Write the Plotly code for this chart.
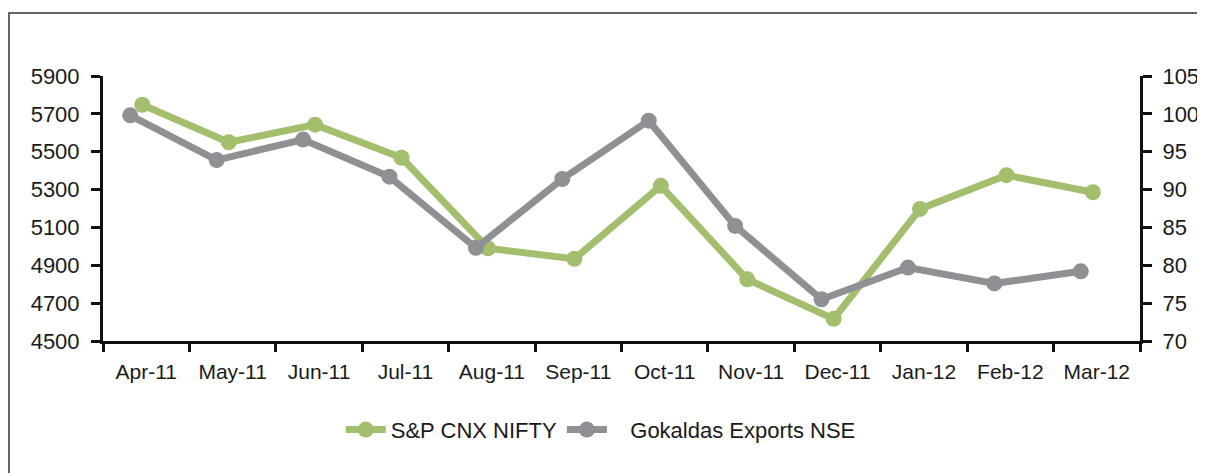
import plotly.graph_objects as go

categories = ["Apr-11", "May-11", "Jun-11", "Jul-11", "Aug-11", "Sep-11",
              "Oct-11", "Nov-11", "Dec-11", "Jan-12", "Feb-12", "Mar-12"]
nifty = [5748, 5550, 5643, 5468, 4990, 4934, 5320, 4826, 4617, 5198, 5376, 5286]
gokaldas = [99.8, 93.9, 96.6, 91.7, 82.3, 91.4, 99.1, 85.2, 75.5, 79.7, 77.6, 79.2]
left_ticks = [4500, 4700, 4900, 5100, 5300, 5500, 5700, 5900]
right_ticks = [70, 75, 80, 85, 90, 95, 100, 105]

GREEN = "#a3be6c"
GREY = "#8e9094"
FONT = "Liberation Sans, Arial, sans-serif"

# page body has an 8px margin; the figure starts at (8, 8) in the window
OFF = 8
W, H = 1205 - OFF, 473 - OFF
ML, MR, MT, MB = 103 - OFF, 65, 76 - OFF, 132
PW, PH = W - ML - MR, H - MT - MB

idx = list(range(len(categories)))
grey_x = [i for i in idx]
green_x = [i + 0.14 for i in idx]
centers = [i + 0.185 for i in idx]
bounds = [i - 0.315 for i in range(len(categories) + 1)]

fig = go.Figure()
fig.add_trace(go.Scatter(
    x=green_x, y=nifty, name="S&P CNX NIFTY", mode="lines+markers",
    line=dict(color=GREEN, width=7), marker=dict(color=GREEN, size=16),
    yaxis="y"))
fig.add_trace(go.Scatter(
    x=grey_x, y=gokaldas, name="\u00a0\u00a0\u00a0Gokaldas Exports NSE",
    mode="lines+markers",
    line=dict(color=GREY, width=7), marker=dict(color=GREY, size=16),
    yaxis="y2"))

fig.update_layout(
    width=W, height=H,
    margin=dict(l=ML, r=MR, t=MT, b=MB, pad=0, autoexpand=False),
    paper_bgcolor="white", plot_bgcolor="white",
    font=dict(family=FONT, size=22, color="#1a1a1a"),
    showlegend=True,
    legend=dict(orientation="h", x=0.48, xanchor="center", y=-0.335,
                yanchor="middle", font=dict(size=22, family=FONT),
                itemwidth=40, tracegroupgap=0),
    xaxis=dict(
        range=[bounds[0], bounds[-1]], automargin=False,
        tickmode="array", tickvals=centers, ticktext=categories,
        ticks="", showgrid=False, zeroline=False,
        showline=True, linecolor="#111", linewidth=3,
        tickfont=dict(size=21, family=FONT), ticklabelstandoff=10,
        minor=dict(tickmode="array", tickvals=bounds, ticks="outside",
                   ticklen=8, tickwidth=3, tickcolor="#111", showgrid=False),
    ),
    yaxis=dict(
        range=[4500, 5900], tickmode="array", tickvals=left_ticks,
        ticks="outside", ticklen=9, tickwidth=3, tickcolor="#111",
        showline=True, linecolor="#111", linewidth=3, automargin=False,
        showgrid=False, zeroline=False, ticklabelstandoff=7,
        tickfont=dict(size=22, family=FONT),
    ),
    yaxis2=dict(
        range=[70, 105], tickmode="array", tickvals=right_ticks,
        overlaying="y", side="right", automargin=False,
        ticks="outside", ticklen=9, tickwidth=3, tickcolor="#111",
        showline=True, linecolor="#111", linewidth=3,
        showgrid=False, zeroline=False, ticklabelstandoff=6,
        tickfont=dict(size=22, family=FONT),
    ),
    shapes=[dict(
        type="rect", xref="paper", yref="paper",
        x0=(9 - OFF - ML) / PW, x1=(W + 20 - ML) / PW,
        y0=(MT + PH - (H + 20)) / PH, y1=(MT + PH - (13 - OFF)) / PH,
        line=dict(color="#333", width=1.5), fillcolor="rgba(0,0,0,0)",
        layer="below")],
)

fig.write_html("out.html")
